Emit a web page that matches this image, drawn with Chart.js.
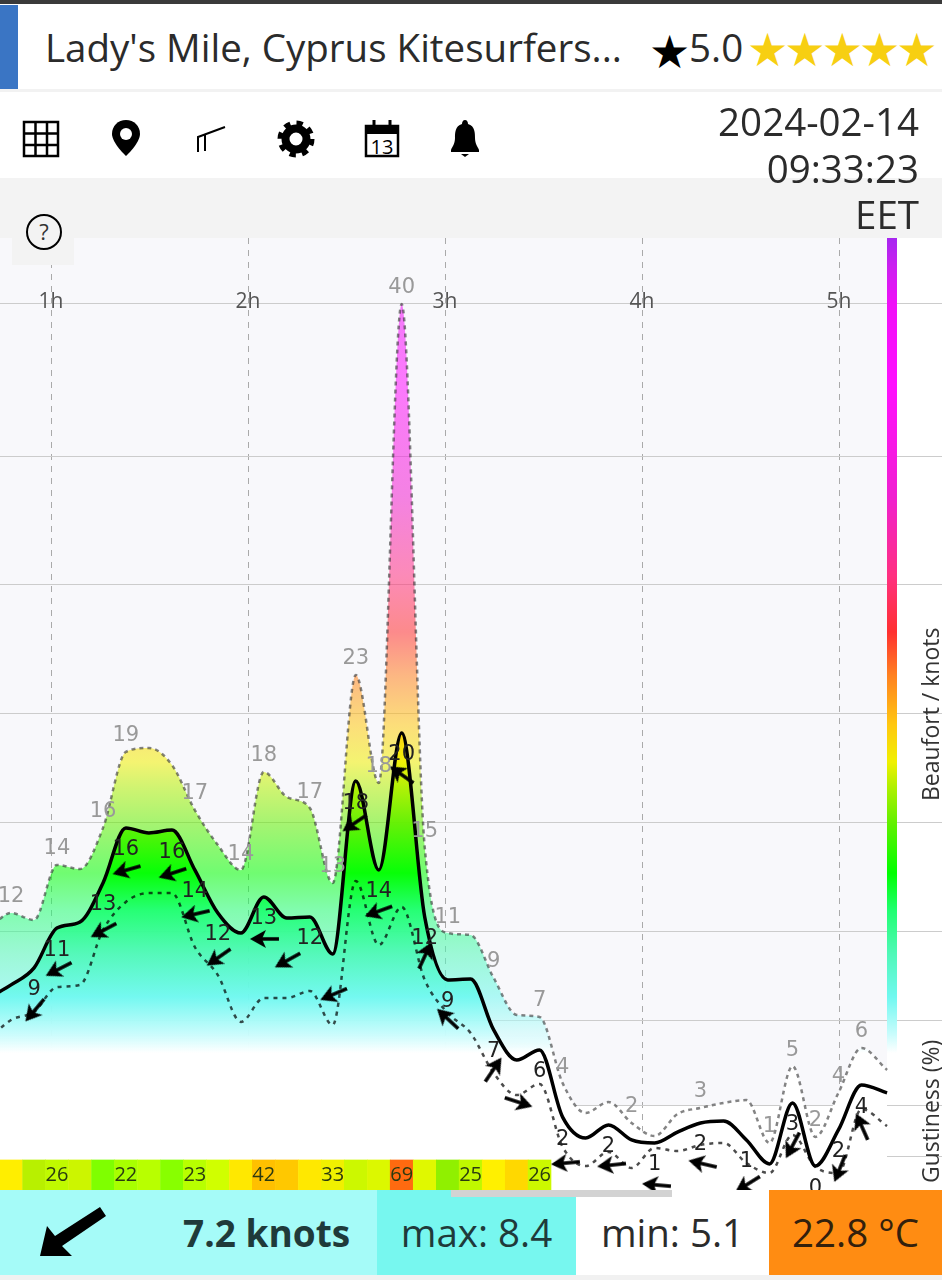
<!DOCTYPE html>
<html lang="en">
<head>
  <meta charset="UTF-8" />
  <title>Lady's Mile, Cyprus Kitesurfers</title>
  <script src="https://cdn.jsdelivr.net/npm/chart.js"></script>
  <style>
    html, body { margin: 0; padding: 0; }
    body { width: 942px; height: 1280px; position: relative; overflow: hidden; background: #fff;
      font-family: "Open Sans", sans-serif; color: #2b2b2b; }
    .abs { position: absolute; white-space: nowrap; }
    #topbar { left: 0; top: 0; width: 942px; height: 4px; background: #3a3a3a; }
    #blue { left: 0; top: 5px; width: 18px; height: 84px; background: #3a75c4; }
    #sep { left: 0; top: 89px; width: 942px; height: 3px; background: #f2f2f2; }
    #title { left: 45px; top: 22px; font-size: 38.5px; line-height: 50px; }
    #star { left: 649px; top: 27px; font-size: 46px; line-height: 50px; font-family: "DejaVu Sans"; color: #000; }
    #rating { left: 689px; top: 22px; font-size: 38.5px; line-height: 50px; }
    #gold { left: 747px; top: 25px; font-size: 46px; line-height: 50px; font-family: "DejaVu Sans"; color: #f7cf12; letter-spacing: -3.9px; }
    #strip { left: 0; top: 178px; width: 942px; height: 60px; background: #f3f3f3; }
    #clock { right: 23px; top: 98px; text-align: right; font-size: 38.5px; line-height: 46.5px; z-index: 3; }
    #help { left: 12px; top: 214px; width: 62px; height: 51px; background: #f3f3f3; z-index: 2; }
    #chartWrap { left: 0; top: 238px; width: 942px; height: 952px;
      background: linear-gradient(#f8f8fb, #f8f8fb) 0 0 / 887px 867px no-repeat, #fff; }
    #rampBar { left: 887px; top: 238px; width: 10px; height: 822px; }
    .side { font-size: 23px; line-height: 26px; transform: rotate(-90deg); transform-origin: left top; color: #333; }
    .cell { top: 1190px; height: 85px; line-height: 85px; font-size: 38.5px; color: #1f3a3a; }
    #bottom { left: 0; top: 1275px; width: 942px; height: 5px; background: #f1f1f1; }
    #scroll { left: 451px; top: 1190px; width: 221px; height: 7px; background: #d3d3d3; }
  </style>
</head>
<body>
  <div class="abs" id="topbar"></div>
  <div class="abs" id="blue"></div>
  <div class="abs" id="title">Lady's Mile, Cyprus Kitesurfers...</div>
  <div class="abs" id="star">★</div>
  <div class="abs" id="rating">5.0</div>
  <div class="abs" id="gold">★★★★★</div>
  <div class="abs" id="sep"></div>

  <!-- toolbar icons -->
  <svg class="abs" style="left:0;top:110px" width="500" height="60" fill="none" stroke="#000">
    <g stroke-width="2.5">
      <rect x="24" y="12" width="34" height="34"/>
      <path d="M35.500 12V46M47 12V46M24 23.500H58M24 35H58"/>
    </g>
    <path d="M126 10c-8 0-14 6-14 14 0 9 14 22 14 22s14-13 14-22c0-8-6-14-14-14z" fill="#000" stroke="none"/>
    <circle cx="126" cy="24" r="6" fill="#fff" stroke="none"/>
    <path d="M198 42V27L225 17M205 41V25" stroke-width="2"/>
    <circle cx="296" cy="29" r="10.500" stroke-width="8"/>
    <circle cx="296" cy="29" r="16" stroke-width="5" stroke-dasharray="6.300 6.270"/>
    <rect x="366" y="16" width="32" height="30" stroke-width="2.500"/>
    <path d="M366 17h32v7h-32z" fill="#000" stroke="none"/>
    <path d="M374 10v9M390 10v9" stroke-width="3"/>
    <text x="382" y="44" font-family="Open Sans" font-size="20" text-anchor="middle" fill="#000" stroke="none">13</text>
    <path d="M465 10c-2 0-3 2-3 4-7 2-7 9-7 14 0 6-3 9-4 12v2h28v-2c-1-3-4-6-4-12 0-5 0-12-7-14 0-2-1-4-3-4z" fill="#000" stroke="none"/>
    <path d="M461 44h8l-4 3z" fill="#000" stroke="none"/>
  </svg>

  <div class="abs" id="strip"></div>

  <div class="abs" id="chartWrap"><canvas id="windChart" width="942" height="952" style="display:block"></canvas></div>
  <div class="abs" id="rampBar"></div>

  <div class="abs" id="clock">2024-02-14<br>09:33:23<br>EET</div>

  <div class="abs" id="help">
    <svg width="62" height="51">
      <circle cx="32" cy="18" r="17" fill="none" stroke="#000" stroke-width="2"/>
      <text x="32" y="26" font-family="Open Sans" font-size="22" text-anchor="middle" fill="#333">?</text>
    </svg>
  </div>

  <div class="abs side" style="left:917px;top:801px">Beaufort / knots</div>
  <div class="abs side" style="left:917px;top:1183px">Gustiness (%)</div>

  <!-- footer -->
  <div class="abs cell" style="left:0;width:377px;background:#a5fbf8"></div>
  <svg class="abs" style="left:0;top:1190px" width="130" height="85">
    <path d="M100 17L106 26L62 56L72 66L40 66L47 36L55 46Z" fill="#000"/>
  </svg>
  <div class="abs cell" style="left:183px;font-weight:700;font-size:37px">7.2 knots</div>
  <div class="abs cell" style="left:377px;width:199px;background:#77f7ef;text-align:center">max: 8.4</div>
  <div class="abs cell" style="left:576px;width:193px;background:#fff;text-align:center;color:#2b2b2b">min: 5.1</div>
  <div class="abs cell" style="left:769px;width:173px;background:#ff8c12;text-align:center;color:#33200c">22.8 °C</div>
  <div class="abs" id="scroll"></div>
  <div class="abs" id="bottom"></div>

  <script>
    // hours on the x axis, one sample every 7 minutes
    const times = [0.680, 0.797, 0.914, 1.030, 1.147, 1.264, 1.380, 1.497, 1.614, 1.730,
      1.847, 1.964, 2.080, 2.197, 2.314, 2.430, 2.547, 2.664, 2.780, 2.897,
      3.014, 3.130, 3.247, 3.364, 3.480, 3.597, 3.714, 3.830, 3.947, 4.064,
      4.180, 4.297, 4.414, 4.530, 4.647, 4.764, 4.880, 4.997, 5.114, 5.244];

    const gustKnots = [11.25, 12.03, 11.71, 14.24, 14.05, 15.94, 19.43, 19.61, 18.83, 16.76,
      15.15, 14.0, 18.51, 17.36, 16.85, 13.41, 22.96, 18.0, 40, 15.06,
      11.11, 11.02, 9.05, 7.35, 7.26, 4.22, 2.85, 3.35, 2.39, 1.79,
      2.80, 3.08, 3.31, 3.44, 1.47, 5.0, 1.75, 3.77, 5.83, 4.82];
    const meanKnots = [8.13, 8.73, 9.51, 11.34, 11.62, 13.41, 15.94, 15.71, 15.84, 14.01,
      12.03, 11.11, 12.77, 11.80, 11.85, 10.15, 18.09, 14.01, 20.30, 11.85,
      8.96, 9.0, 6.66, 5.28, 5.74, 2.66, 1.70, 2.30, 1.61, 1.47,
      1.97, 2.39, 2.48, 1.61, 0.51, 3.31, 0.41, 2.07, 4.13, 3.77];
    const minKnots = [6.2, 7.12, 7.49, 8.63, 8.73, 11.25, 12.54, 12.95, 12.95, 10.47,
      9.18, 7.03, 8.13, 8.13, 8.45, 6.89, 13.5, 10.56, 12.31, 8.96,
      7.44, 6.52, 4.68, 3.67, 4.18, 1.29, 0.41, 1.06, 0.32, 1.24,
      1.10, 1.38, 1.47, 0.55, 0.09, 1.84, 0.37, 0.09, 3.03, 2.25];

    // the numbers printed along the curves (not every sample has one)
    const gustLabels = [null, 12, null, 14, null, 16, 19, null, null, 17,
      null, 14, 18, null, 17, 13, 23, 18, 40, 15,
      11, null, 9, null, 7, 4, null, null, 2, null,
      null, 3, null, null, 1, 5, 2, 4, 6, null];
    const meanLabels = [null, null, 9, 11, null, 13, 16, null, 16, 14,
      12, null, 13, null, 12, null, 18, 14, 20, 12,
      9, null, 7, null, 6, 2, null, 2, null, 1,
      null, 2, null, 1, null, 3, 0, 2, 4, null];

    // wind direction arrows
    const arrowTimes = [0.919, 1.041, 1.269, 1.386, 1.619, 1.736, 1.853, 2.086, 2.203, 2.437,
      2.543, 2.665, 2.782, 2.898, 3.015, 3.244, 3.371, 3.614, 3.848, 4.076,
      4.310, 4.538, 4.766, 5.005, 5.117];
    const arrowKnots = [7.58, 9.46, 11.25, 14.01, 13.87, 11.99, 10.01, 10.84, 9.87, 8.31,
      16.17, 12.12, 18.37, 10.06, 7.16, 4.82, 3.35, 0.55, 0.46, -0.46,
      0.51, -0.41, 1.38, 0.32, 2.20];
    const arrowDirs = [220, 243, 242, 254, 252, 257, 235, 270, 241, 247,
      236, 250, 305, 25, 313, 34, 108, 265, 264, 275,
      283, 238, 208, 202, 336];

    // gustiness strip along the bottom, every third cell is labelled
    const bandValues = [34, 26, 26, 28, 20, 22, 25, 20, 23, 27, 36, 42,
      39, 35, 33, 28, 30, 69, 30, 21, 25, 34, 38, 26];
    const bandColors = ["#ffee00", "#b8f000", "#c0fa00", "#ccf500", "#7fff00", "#a8ff00",
      "#b8ff00", "#88ff00", "#b8ff00", "#d0ff00", "#ffe800", "#ffc000",
      "#ffc800", "#ffe800", "#f0f000", "#ccf800", "#dcf800", "#ff6a10",
      "#e0f800", "#90f000", "#c0f800", "#fff000", "#ffd800", "#ccf800"];

    const hourTicks = [1, 2, 3, 4, 5];
    const beaufortKnots = [0.83, 3.2, 7.1, 11.2, 16.2, 21.2, 27.1, 33, 40];
    const beaufortNames = ["1", "2", "3", "4", "5", "6", "7", "8", "9"];

    // colour ramp: canvas y in px, colour
    const rampStops = [[1, "#a828f0"], [29, "#cc20f0"], [66, "#f010f8"], [147, "#ff10ff"],
      [258, "#f020d0"], [338, "#ff3080"], [394, "#ff3030"], [437, "#ff8020"],
      [487, "#ffc810"], [524, "#f0f000"], [549, "#b0f000"], [586, "#60f000"],
      [635, "#00ff00"], [672, "#20ff70"], [716, "#50f8b8"], [759, "#70f8f0"],
      [796, "#c8fcfc"], [815, "#ffffff"]];

    const canvas = document.getElementById("windChart");
    const ctx = canvas.getContext("2d");

    function makeGradient(gustStyle) {
      const g = ctx.createLinearGradient(0, 0, 0, canvas.height);
      rampStops.forEach(([y, c]) => {
        const r = parseInt(c.slice(1, 3), 16), gr = parseInt(c.slice(3, 5), 16), b = parseInt(c.slice(5, 7), 16);
        const a = gustStyle ? (y > 800 ? 1 : 0.55) : 0.94;
        g.addColorStop(y / canvas.height, `rgba(${r},${gr},${b},${a})`);
      });
      g.addColorStop(1, "rgba(255,255,255,1)");
      return g;
    }

    document.getElementById("rampBar").style.background = "linear-gradient(" +
      rampStops.map(([y, c]) => `${c} ${(y / 822 * 100).toFixed(2)}%`).join(",") + ")";

    // little arrow sprite, points up, rotated per point
    const arrowSprite = document.createElement("canvas");
    arrowSprite.width = 34;
    arrowSprite.height = 34;
    const sp = arrowSprite.getContext("2d");
    sp.fillStyle = "#000";
    sp.fillRect(15.25, 10, 3.5, 21);
    sp.beginPath();
    sp.moveTo(17, 2);
    sp.lineTo(26, 18);
    sp.lineTo(17, 14);
    sp.lineTo(8, 18);
    sp.closePath();
    sp.fill();

    const curveLabels = {
      id: "curveLabels",
      afterDatasetsDraw(chart) {
        const c = chart.ctx, xs = chart.scales.x, ys = chart.scales.y;
        c.save();
        c.textAlign = "center";
        c.textBaseline = "middle";
        c.font = "21px 'DejaVu Sans'";
        c.fillStyle = "#999";
        gustLabels.forEach((v, i) => {
          if (v !== null) c.fillText(v, xs.getPixelForValue(times[i]), ys.getPixelForValue(gustKnots[i]) - 16);
        });
        c.fillStyle = "#222";
        meanLabels.forEach((v, i) => {
          if (v !== null) c.fillText(v, xs.getPixelForValue(times[i]), ys.getPixelForValue(meanKnots[i]) + 22);
        });
        c.font = "20px 'Open Sans'";
        c.fillStyle = "#2a3a10";
        bandValues.forEach((v, i) => {
          if (i % 3 === 2) c.fillText(v, xs.getPixelForValue(times[i + 1]), ys.getPixelForValue(0));
        });
        c.restore();
      }
    };

    // axes sit on top of the plot, so they take no room of their own
    function flatten(s) {
      s.paddingTop = s.paddingBottom = s.paddingLeft = s.paddingRight = 0;
      if (s.isHorizontal()) s.height = 0; else s.width = 0;
    }

    new Chart(ctx, {
      data: {
        datasets: [
          {
            type: "scatter", order: 1, clip: false,
            data: arrowTimes.map((t, i) => ({ x: t, y: arrowKnots[i] })),
            pointStyle: arrowSprite, pointRotation: arrowDirs, showLine: false
          },
          {
            type: "line", order: 2,
            data: times.map((t, i) => ({ x: t, y: minKnots[i] })),
            borderColor: "rgba(0,0,0,0.7)", borderWidth: 2.5, borderDash: [4, 5],
            cubicInterpolationMode: "monotone", pointRadius: 0, fill: false
          },
          {
            type: "bar", order: 3,
            data: bandValues.map((v, i) => ({ x: times[i + 1], y: [-0.69, 0.69] })),
            backgroundColor: bandColors, barPercentage: 1, categoryPercentage: 1
          },
          {
            type: "line", order: 4,
            data: times.map((t, i) => ({ x: t, y: meanKnots[i] })),
            borderColor: "#000", borderWidth: 3.5,
            cubicInterpolationMode: "monotone", pointRadius: 0,
            fill: "start", backgroundColor: makeGradient(false)
          },
          {
            type: "line", order: 5,
            data: times.map((t, i) => ({ x: t, y: gustKnots[i] })),
            borderColor: "rgba(50,50,50,0.6)", borderWidth: 2.5, borderDash: [4, 4],
            cubicInterpolationMode: "monotone", pointRadius: 0,
            fill: "start", backgroundColor: makeGradient(true)
          }
        ]
      },
      options: {
        responsive: false,
        animation: false,
        parsing: { xAxisKey: "x", yAxisKey: "y" },
        layout: { padding: 0, autoPadding: false },
        plugins: { legend: { display: false }, tooltip: { enabled: false } },
        scales: {
          x: {
            type: "linear", position: "top", min: 0.7411, max: 5.5228, offset: false,
            afterFit: flatten,
            afterBuildTicks: s => { s.ticks = hourTicks.map(v => ({ value: v })); },
            grid: { color: "#aaa", lineWidth: 1, drawTicks: false, offset: false },
            border: { display: false, dash: [6, 6] },
            ticks: { mirror: true, callback: v => v + "h", padding: 51, autoSkip: false, maxRotation: 0,
              color: "#555", font: { family: "Open Sans", size: 21 } }
          },
          y: {
            type: "linear", position: "right", min: -0.689, max: 43.03,
            afterFit: flatten,
            afterBuildTicks: s => { s.ticks = beaufortKnots.map(v => ({ value: v })); },
            grid: { color: "#ccc", lineWidth: 1, drawTicks: false },
            border: { display: false },
            ticks: { mirror: true, padding: 25, labelOffset: -15, autoSkip: false,
              callback: (v, i) => beaufortNames[i],
              color: "#222", font: { family: "DejaVu Sans", size: 20 } }
          }
        }
      },
      plugins: [curveLabels]
    });
  </script>
</body>
</html>
